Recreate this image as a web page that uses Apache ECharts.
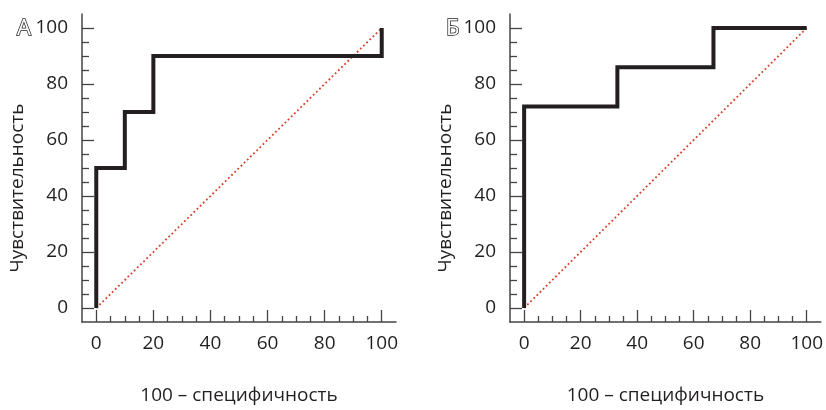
<!DOCTYPE html>
<html>
<head>
<meta charset="utf-8">
<script src="https://cdn.jsdelivr.net/npm/echarts@6/dist/echarts.min.js"></script>
<style>html,body{margin:0;padding:0;background:#fff}#c{width:826px;height:410px}</style>
</head>
<body>
<div id="c"></div>
<script>
const panelLetters = ['А', 'Б'];
const xAxisTitle = '100 – специфичность';
const yAxisTitle = 'Чувствительность';
const majorTicks = [0, 20, 40, 60, 80, 100];
const minorTicks = [5, 10, 15, 25, 30, 35, 45, 50, 55, 65, 70, 75, 85, 90, 95];
const rocA_x = [0, 0, 10, 10, 20, 20, 100, 100];
const rocA_y = [0, 50, 50, 70, 70, 90, 90, 100];
const rocB_x = [0, 0, 33, 33, 67, 67, 100];
const rocB_y = [0, 72, 72, 86, 86, 100, 100];
const diag_x = [0, 100];
const diag_y = [0, 100];

const INK = '#231f20';
const FONT = 'Open Sans';
const pair = (xs, ys) => xs.map((x, i) => [x, ys[i]]);

const grids = [
  { left: 82, top: 14, width: 314, height: 312 },
  { left: 510, top: 14, width: 313, height: 312 }
];

const xAxes = [], yAxes = [], series = [], titles = [];
grids.forEach((g, gi) => {
  xAxes.push({
    type: 'value', gridIndex: gi, min: -5, max: 105, position: 'bottom',
    name: xAxisTitle, nameLocation: 'middle', nameGap: 64,
    nameTextStyle: { fontFamily: FONT, fontSize: 19, color: INK },
    axisLine: { show: true, onZero: false, lineStyle: { color: '#444', width: 1.5 } },
    axisTick: { show: true, inside: true, length: 12, customValues: majorTicks, lineStyle: { color: '#444', width: 1.3 } },
    axisLabel: { customValues: majorTicks, fontFamily: FONT, fontSize: 19, color: INK, margin: 12 },
    splitLine: { show: false }
  });
  xAxes.push({
    type: 'value', gridIndex: gi, min: -5, max: 105, position: 'bottom',
    axisLine: { show: false, onZero: false },
    axisTick: { show: true, inside: true, length: 6, customValues: minorTicks, lineStyle: { color: '#444', width: 1.3 } },
    axisLabel: { show: false }, splitLine: { show: false }
  });
  yAxes.push({
    type: 'value', gridIndex: gi, min: -5, max: 105, position: 'left',
    name: yAxisTitle, nameLocation: 'middle', nameGap: 55, nameRotate: 90,
    nameTextStyle: { fontFamily: FONT, fontSize: 19, color: INK, padding: [0, 40, 0, 0] },
    axisLine: { show: true, onZero: false, lineStyle: { color: '#444', width: 1.5 } },
    axisTick: { show: true, inside: true, length: 12, customValues: majorTicks, lineStyle: { color: '#444', width: 1.3 } },
    axisLabel: { customValues: majorTicks, fontFamily: FONT, fontSize: 19, color: INK, margin: 14 },
    splitLine: { show: false }
  });
  yAxes.push({
    type: 'value', gridIndex: gi, min: -5, max: 105, position: 'left',
    axisLine: { show: false, onZero: false },
    axisTick: { show: true, inside: true, length: 7, customValues: minorTicks, lineStyle: { color: '#444', width: 1.3 } },
    axisLabel: { show: false }, splitLine: { show: false }
  });
  titles.push({
    text: panelLetters[gi], left: gi === 0 ? 12 : 441, top: 13,
    textStyle: { fontFamily: FONT, fontSize: 22, fontWeight: 'normal', color: '#fff', textBorderColor: INK, textBorderWidth: 1.5 }
  });
});

const rocs = [pair(rocA_x, rocA_y), pair(rocB_x, rocB_y)];
rocs.forEach((d, gi) => {
  series.push({
    type: 'line', xAxisIndex: gi * 2, yAxisIndex: gi * 2, data: pair(diag_x, diag_y),
    symbol: 'none', silent: true, z: 2,
    lineStyle: { color: '#d4432a', width: 1.8, type: [1.8, 2.6] }
  });
  series.push({
    type: 'line', xAxisIndex: gi * 2, yAxisIndex: gi * 2, data: d,
    symbol: 'none', silent: true, z: 3,
    lineStyle: { color: INK, width: 4, join: 'miter', cap: 'butt' }
  });
});

const chart = echarts.init(document.getElementById('c'));
chart.setOption({
  animation: false,
  backgroundColor: '#fff',
  title: titles,
  grid: grids,
  xAxis: xAxes,
  yAxis: yAxes,
  series: series
});
</script>
</body>
</html>
